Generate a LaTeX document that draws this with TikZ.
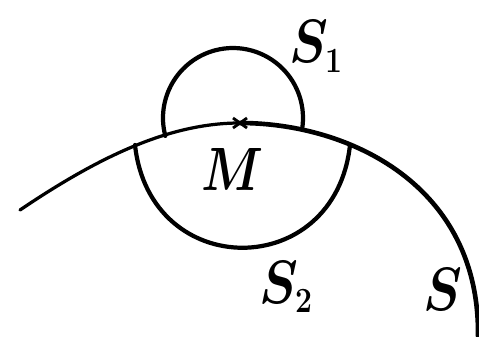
\documentclass[tikz,border=0pt]{standalone}
\usepackage{amsmath}
\usepackage{tikz}
\newcommand{\subnum}[1]{\hbox{\Large\bfseries #1}}
\tikzset{
  lbl/.style={font=\Huge\boldmath, scale=1.75, xscale=0.85, inner sep=0pt, anchor=base west},
  sphere/.style={line width=3pt, line cap=round},
  surface/.style={line width=2.3pt, line cap=round},
}

\begin{document}
\begin{tikzpicture}[x=0.025cm, y=0.025cm]

  \useasboundingbox (0,0) rectangle (479,336);
  \clip (0,0) rectangle (479,336);

  % Point M on S (top of the surface).
  \coordinate (M) at (240,213);

  % Surface S: thinner on the left, heavier on the right.
  \coordinate (SL) at (20,126);
  \coordinate (SR) at (478,0);
  \draw[surface] (SL) .. controls (100,180) and (170,213) .. (M);
  \draw[surface, line width=3.3pt] (M) .. controls (350,213) and (480,150) .. (SR);

  % Mark at M.
  \draw[line width=2pt] (M) ++(-7,-5) -- ++(14,10);
  \draw[line width=2pt] (M) ++(-7,5) -- ++(14,-10);

  % Sphere S1 (part outside S).
  \coordinate (O1) at (233,218);
  \draw[sphere] (O1) ++(194.8:70) arc[start angle=194.8, end angle=-9, radius=70];

  % Sphere S2 (part inside S).
  \coordinate (A2) at (135,191);
  \coordinate (B2) at (350,191);
  \draw[sphere] (A2) .. controls (150,54) and (335,54) .. (B2);

  % Labels.
  \node[lbl] (s1) at (289,273) {$S_{\subnum{1}}$};
  \node[lbl] (s2) at (259,33) {$S_{\subnum{2}}$};
  \node[lbl] (s) at (423,26) {$S$};
  \node[lbl, anchor=center, xscale=0.95] (m) at (233,167) {$M$};

\end{tikzpicture}
\end{document}
